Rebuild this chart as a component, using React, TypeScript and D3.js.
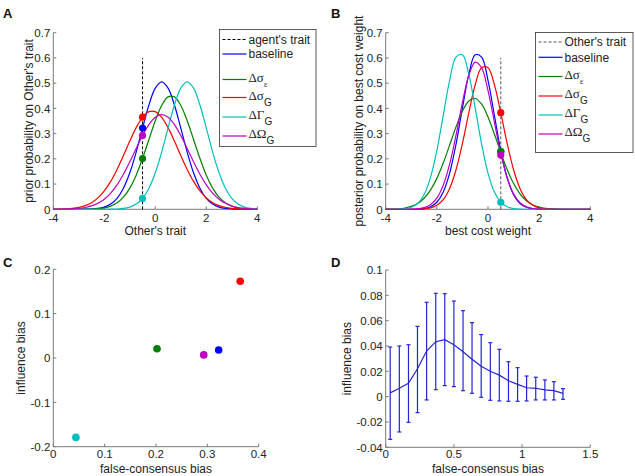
import React from "react";
import * as d3 from "d3";

// sample positions on the trait / cost-weight axis
const traitGrid = [
  -4, -3.75, -3.5, -3.25, -3, -2.75, -2.5, -2.25, -2, -1.75, -1.5, -1.25, -1, -0.75, -0.5, -0.25,
  0, 0.25, 0.5, 0.75, 1, 1.25, 1.5, 1.75, 2, 2.25, 2.5, 2.75, 3, 3.25, 3.5, 3.75, 4,
];

// panel A: prior probability on Other's trait
const priorBaseline = [0, 0, 0, 0, 0.0001, 0.0004, 0.0012, 0.0034, 0.0087, 0.0206, 0.0434, 0.0834, 0.1447, 0.2267, 0.3217, 0.4134, 0.4803, 0.505, 0.4803, 0.4134, 0.3217, 0.2267, 0.1447, 0.0834, 0.0434, 0.0206, 0.0087, 0.0034, 0.0012, 0.0004, 0.0001, 0, 0];
const priorSigmaEps = [0, 0, 0, 0, 0.0001, 0.0003, 0.0009, 0.0024, 0.0056, 0.0125, 0.0255, 0.0482, 0.0841, 0.1354, 0.2014, 0.2768, 0.351, 0.4115, 0.4456, 0.4456, 0.4115, 0.351, 0.2768, 0.2014, 0.1354, 0.0841, 0.0482, 0.0255, 0.0125, 0.0056, 0.0024, 0.0009, 0.0003];
const priorSigmaG = [0.0003, 0.0007, 0.0017, 0.0037, 0.0075, 0.0145, 0.0263, 0.0451, 0.0727, 0.1105, 0.1581, 0.2129, 0.2706, 0.3236, 0.3647, 0.3871, 0.3871, 0.3647, 0.3236, 0.2706, 0.2129, 0.1581, 0.1105, 0.0727, 0.0451, 0.0263, 0.0145, 0.0075, 0.0037, 0.0017, 0.0007, 0.0003, 0.0001];
const priorGammaG = [0, 0, 0, 0, 0, 0, 0, 0, 0.0001, 0.0004, 0.0012, 0.0034, 0.0087, 0.0206, 0.0434, 0.0834, 0.1447, 0.2267, 0.3217, 0.4134, 0.4803, 0.505, 0.4803, 0.4134, 0.3217, 0.2267, 0.1447, 0.0834, 0.0434, 0.0206, 0.0087, 0.0034, 0.0012];
const priorOmegaG = [0.0001, 0.0003, 0.0008, 0.0017, 0.0035, 0.007, 0.0133, 0.0237, 0.0401, 0.0641, 0.0969, 0.1388, 0.1881, 0.2411, 0.2925, 0.3358, 0.3648, 0.375, 0.3648, 0.3358, 0.2925, 0.2411, 0.1881, 0.1388, 0.0969, 0.0641, 0.0401, 0.0237, 0.0133, 0.007, 0.0035, 0.0017, 0.0008];
const agentTrait = -0.5;
const priorAtAgent = [0.322, 0.201, 0.365, 0.043, 0.293];

// panel B: posterior probability on best cost weight
const postBaseline = [0, 0, 0, 0, 0.0002, 0.0008, 0.003, 0.0099, 0.028, 0.0684, 0.1434, 0.2587, 0.4012, 0.5347, 0.6125, 0.6034, 0.511, 0.3719, 0.2327, 0.1253, 0.058, 0.0231, 0.0079, 0.0023, 0.0006, 0.0001, 0, 0, 0, 0, 0, 0, 0];
const postSigmaEps = [0.0003, 0.0009, 0.0022, 0.0052, 0.0115, 0.0232, 0.0437, 0.076, 0.1226, 0.1834, 0.2543, 0.3266, 0.3891, 0.4294, 0.4393, 0.4165, 0.3662, 0.2982, 0.2251, 0.1576, 0.1022, 0.0614, 0.0342, 0.0177, 0.0085, 0.0037, 0.0015, 0.0006, 0.0002, 0.0001, 0, 0, 0];
const postSigmaG = [0, 0, 0, 0, 0.0001, 0.0005, 0.0018, 0.0057, 0.0158, 0.0385, 0.0828, 0.1568, 0.261, 0.3826, 0.4937, 0.5609, 0.5609, 0.4937, 0.3826, 0.261, 0.1568, 0.0828, 0.0385, 0.0158, 0.0057, 0.0018, 0.0005, 0.0001, 0, 0, 0, 0, 0];
const postGammaG = [0, 0.0001, 0.0006, 0.0023, 0.0079, 0.0231, 0.058, 0.1253, 0.2327, 0.3719, 0.511, 0.6034, 0.6125, 0.5347, 0.4012, 0.2587, 0.1434, 0.0684, 0.028, 0.0099, 0.003, 0.0008, 0.0002, 0, 0, 0, 0, 0, 0, 0, 0, 0, 0];
const postOmegaG = [0, 0, 0, 0.0001, 0.0005, 0.002, 0.0064, 0.018, 0.0442, 0.0952, 0.1787, 0.294, 0.4228, 0.531, 0.5834, 0.5604, 0.4705, 0.3456, 0.2217, 0.1243, 0.0611, 0.0262, 0.0098, 0.0032, 0.0009, 0.0002, 0, 0, 0, 0, 0, 0, 0];
const otherTrait = 0.5;
const postAtOther = [0.228, 0.23, 0.383, 0.028, 0.215];

// panel C: per-condition biases
const falseConsensus = [0.322, 0.202, 0.364, 0.044, 0.293];
const influenceBias = [0.018, 0.021, 0.173, -0.179, 0.007];

// panel D: binned influence bias against false-consensus bias
const binCentres = [0.033, 0.1, 0.167, 0.233, 0.3, 0.367, 0.433, 0.5, 0.567, 0.633, 0.7, 0.767, 0.833, 0.9, 0.967, 1.033, 1.1, 1.167, 1.233, 1.3];
const binMean = [0.003, 0.0066, 0.0105, 0.022, 0.036, 0.0434, 0.045, 0.041, 0.0355, 0.0295, 0.024, 0.02, 0.017, 0.0126, 0.0097, 0.007, 0.0066, 0.0053, 0.0047, 0.0026];
const binUpper = [0.0392, 0.04, 0.041, 0.0555, 0.0745, 0.0816, 0.0813, 0.0755, 0.0679, 0.0584, 0.049, 0.0426, 0.0374, 0.0276, 0.0229, 0.0163, 0.0153, 0.0132, 0.0118, 0.0063];
const binLower = [-0.0337, -0.0279, -0.0203, -0.0126, -0.0026, 0.0055, 0.0087, 0.0079, 0.0047, 0.0026, -0.0005, -0.0029, -0.0034, -0.0037, -0.0037, -0.0034, -0.0026, -0.0026, -0.0026, -0.0021];

const seriesLabels = [
  { main: "baseline", sub: "" },
  { main: "Δσ", sub: "ε" },
  { main: "Δσ", sub: "G" },
  { main: "ΔΓ", sub: "G" },
  { main: "ΔΩ", sub: "G" },
];
const seriesColors = ["#0000ff", "#008000", "#ff0000", "#00bfbf", "#bf00bf"];

const traitTicks = [-4, -2, 0, 2, 4];
const probTicks = [0, 0.1, 0.2, 0.3, 0.4, 0.5, 0.6, 0.7];
const fcTicksC = [0, 0.1, 0.2, 0.3, 0.4];
const infTicksC = [-0.2, -0.1, 0, 0.1, 0.2];
const fcTicksD = [0, 0.5, 1, 1.5];
const infTicksD = [-0.04, -0.02, 0, 0.02, 0.04, 0.06, 0.08, 0.1];

const sans = "'Liberation Sans', Arial, sans-serif";
const serif = "'Liberation Serif', 'Times New Roman', serif";
const axisGrey = "#7a7a7a";

type Scale = d3.ScaleLinear<number, number>;

const fmt = (v: number) => String(+v.toFixed(3));

function Axes(props: {
  x: Scale; y: Scale; xTicks: number[]; yTicks: number[];
  xLabel: string; yLabel: string; yLabelX: number; tickDy: number; labelDy: number;
}) {
  const { x, y, xTicks, yTicks, xLabel, yLabel, yLabelX, tickDy, labelDy } = props;
  const [x0, x1] = x.range();
  const [y0, y1] = y.range();
  return (
    <g fontFamily={sans} fill="#222">
      <line x1={x0} x2={x0} y1={y0} y2={y1} stroke={axisGrey} />
      <line x1={x0} x2={x1} y1={y0} y2={y0} stroke={axisGrey} />
      <g fontSize={11.5}>
        {xTicks.map((t) => (
          <g key={"x" + t}>
            <line x1={x(t)} x2={x(t)} y1={y0} y2={y0 - 3} stroke={axisGrey} />
            <text x={x(t)} y={y0 + tickDy} textAnchor="middle">{fmt(t)}</text>
          </g>
        ))}
        {yTicks.map((t) => (
          <g key={"y" + t}>
            <line x1={x0} x2={x0 + 3} y1={y(t)} y2={y(t)} stroke={axisGrey} />
            <text x={x0 - 3} y={y(t) + 4.2} textAnchor="end">{fmt(t)}</text>
          </g>
        ))}
      </g>
      <g fontSize={12}>
        <text x={(x0 + x1) / 2} y={y0 + labelDy} textAnchor="middle">{xLabel}</text>
        <text transform={`translate(${yLabelX},${(y0 + y1) / 2}) rotate(-90)`} textAnchor="middle">{yLabel}</text>
      </g>
    </g>
  );
}

function Legend(props: { x: number; y: number; w: number; h: number; rows: number[]; first: string; firstColor: string }) {
  const { x, y, w, h, rows, first, firstColor } = props;
  const lx0 = x + 3;
  const lx1 = x + 27;
  const tx = x + 29;
  return (
    <g>
      <rect x={x} y={y} width={w} height={h} fill="#fff" stroke="#333" strokeWidth={0.8} />
      <line x1={lx0} x2={lx1} y1={rows[0]} y2={rows[0]} stroke={firstColor} strokeDasharray="3,2" />
      <text x={tx} y={rows[0] + 4.3} fontFamily={sans} fontSize={12} fill="#222">{first}</text>
      {seriesLabels.map((s, i) => {
        const ry = rows[i + 1];
        return (
          <g key={i}>
            <line x1={lx0} x2={lx1} y1={ry} y2={ry} stroke={seriesColors[i]} strokeWidth={1.2} />
            {s.sub === "" ? (
              <text x={tx} y={ry + 4.3} fontFamily={sans} fontSize={12} fill="#222">{s.main}</text>
            ) : (
              <text x={tx} y={ry + 2} fontFamily={serif} fontSize={13} fill="#222">
                {s.main}
                <tspan fontFamily={s.sub === "ε" ? serif : sans} fontSize={s.sub === "ε" ? 8 : 10} dy={s.sub === "ε" ? 5 : 6}>{s.sub}</tspan>
              </text>
            )}
          </g>
        );
      })}
    </g>
  );
}

function DensityPanel(props: {
  x: Scale; y: Scale; curves: number[][]; marker: number; markerColor: string; dots: number[];
}) {
  const { x, y, curves, marker, markerColor, dots } = props;
  const line = d3.line<number>()
    .x((_, i) => x(traitGrid[i]))
    .y((d) => y(Math.max(0, d)))
    .curve(d3.curveCatmullRom.alpha(0.5));
  return (
    <g>
      <line x1={x(marker)} x2={x(marker)} y1={y(0)} y2={y(0.6)} stroke={markerColor} strokeDasharray="3,2" />
      {curves.map((c, i) => (
        <path key={i} d={line(c) ?? ""} fill="none" stroke={seriesColors[i]} strokeWidth={1.2} />
      ))}
      {dots.map((v, i) => (
        <circle key={i} cx={x(marker)} cy={y(v)} r={3.6} fill={seriesColors[i]} />
      ))}
    </g>
  );
}

export default function App() {
  const xA = d3.scaleLinear().domain([-4, 4]).range([53.3, 257.3]);
  const yA = d3.scaleLinear().domain([0, 0.7]).range([209.3, 32.7]);
  const xB = d3.scaleLinear().domain([-4, 4]).range([385.7, 590.3]);
  const yB = d3.scaleLinear().domain([0, 0.7]).range([209.3, 32.7]);
  const xC = d3.scaleLinear().domain([0, 0.4]).range([53.3, 258.7]);
  const yC = d3.scaleLinear().domain([-0.2, 0.2]).range([446.7, 269.3]);
  const xD = d3.scaleLinear().domain([0, 1.5]).range([385.7, 590.3]);
  const yD = d3.scaleLinear().domain([-0.04, 0.1]).range([447.3, 270]);

  const meanLine = d3.line<number>().x((_, i) => xD(binCentres[i])).y((d) => yD(d));
  const dBlue = "#2424d4";

  return (
    <svg width={635} height={476} style={{ position: "absolute", left: 0, top: 0, background: "#fff" }}>
      <rect width={635} height={476} fill="#fff" />
      <g fontFamily={sans} fontWeight="bold" fontSize={13} fill="#111">
        <text x={3} y={18}>A</text>
        <text x={331} y={18}>B</text>
        <text x={3} y={267}>C</text>
        <text x={331} y={267}>D</text>
      </g>

      {/* A */}
      <Axes x={xA} y={yA} xTicks={traitTicks} yTicks={probTicks} xLabel="Other's trait"
        yLabel="prior probability on Other's trait" yLabelX={32.5} tickDy={12.8} labelDy={26} />
      <DensityPanel x={xA} y={yA} curves={[priorBaseline, priorSigmaEps, priorSigmaG, priorGammaG, priorOmegaG]}
        marker={agentTrait} markerColor="#000" dots={priorAtAgent} />
      <Legend x={219.5} y={29.5} w={96.5} h={117} rows={[39.5, 54, 79.5, 97.5, 117, 136]} first="agent's trait" firstColor="#000" />

      {/* B */}
      <Axes x={xB} y={yB} xTicks={traitTicks} yTicks={probTicks} xLabel="best cost weight"
        yLabel="posterior probability on best cost weight" yLabelX={362.5} tickDy={12.8} labelDy={26} />
      <DensityPanel x={xB} y={yB} curves={[postBaseline, postSigmaEps, postSigmaG, postGammaG, postOmegaG]}
        marker={otherTrait} markerColor="#555" dots={postAtOther} />
      <Legend x={535.5} y={32.5} w={97.5} h={120} rows={[42, 57.3, 76.5, 96, 115, 134]} first="Other's trait" firstColor="#555" />

      {/* C */}
      <Axes x={xC} y={yC} xTicks={fcTicksC} yTicks={infTicksC} xLabel="false-consensus bias"
        yLabel="influence bias" yLabelX={25} tickDy={11} labelDy={26} />
      {falseConsensus.map((v, i) => (
        <circle key={i} cx={xC(v)} cy={yC(influenceBias[i])} r={3.8} fill={seriesColors[i]} />
      ))}

      {/* D */}
      <Axes x={xD} y={yD} xTicks={fcTicksD} yTicks={infTicksD} xLabel="false-consensus bias"
        yLabel="influence bias" yLabelX={351} tickDy={10.5} labelDy={25.3} />
      <g stroke={dBlue} strokeWidth={1.2}>
        {binCentres.map((c, i) => (
          <g key={i}>
            <line x1={xD(c)} x2={xD(c)} y1={yD(binLower[i])} y2={yD(binUpper[i])} />
            <line x1={xD(c) - 2} x2={xD(c) + 2} y1={yD(binLower[i])} y2={yD(binLower[i])} />
            <line x1={xD(c) - 2} x2={xD(c) + 2} y1={yD(binUpper[i])} y2={yD(binUpper[i])} />
          </g>
        ))}
        <path d={meanLine(binMean) ?? ""} fill="none" />
      </g>
    </svg>
  );
}
